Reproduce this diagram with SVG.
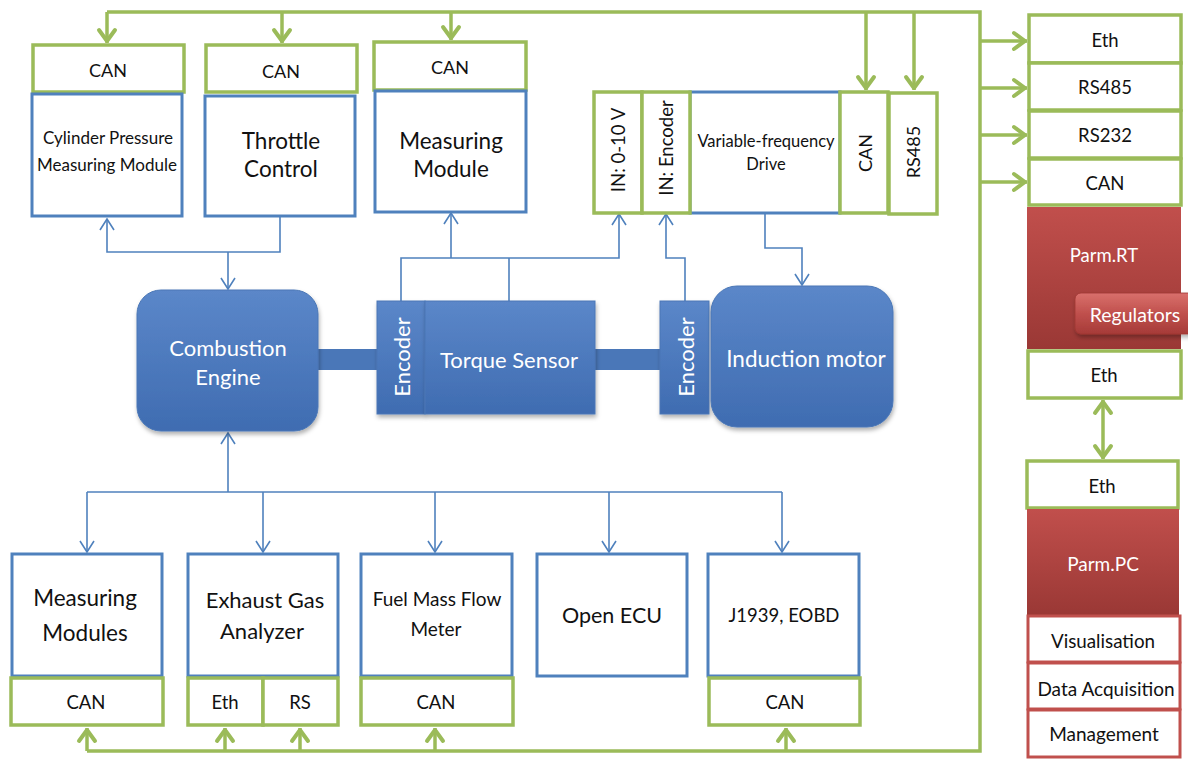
<svg xmlns="http://www.w3.org/2000/svg" width="1188" height="760" viewBox="0 0 1188 760">
<defs>
<linearGradient id="gb" x1="0" y1="0" x2="0" y2="1"><stop offset="0" stop-color="#5B87C9"/><stop offset="1" stop-color="#3F6CB1"/></linearGradient>
<linearGradient id="gr" x1="0" y1="0" x2="0" y2="1"><stop offset="0" stop-color="#C14F4C"/><stop offset="1" stop-color="#9A3835"/></linearGradient>
<linearGradient id="greg" x1="0" y1="0" x2="0" y2="1"><stop offset="0" stop-color="#D9706C"/><stop offset="0.5" stop-color="#C0504D"/><stop offset="1" stop-color="#A63B38"/></linearGradient>
<filter id="sh" x="-10%" y="-10%" width="125%" height="130%"><feDropShadow dx="1" dy="3" stdDeviation="2" flood-color="#000" flood-opacity="0.3"/></filter>
<marker id="ab" markerUnits="userSpaceOnUse" viewBox="-14 -9 16 18" markerWidth="16" markerHeight="18" refX="0" refY="0" orient="auto">
<path d="M-11,-7 L0,0 L-11,7" fill="none" stroke="#4F81BD" stroke-width="1.6"/>
</marker>
<marker id="ag" markerUnits="userSpaceOnUse" viewBox="-16 -11 20 22" markerWidth="20" markerHeight="22" refX="0" refY="0" orient="auto-start-reverse">
<path d="M-13,-8 L-2,0 L-13,8" fill="none" stroke="#9BBB59" stroke-width="4" stroke-linejoin="round" stroke-linecap="round"/>
</marker>
<style>
text{font-family:Lato,"Liberation Sans",sans-serif;fill:#111;text-anchor:middle;dominant-baseline:central}
.w{fill:#fff}
.g{fill:#fff;stroke:#9BBB59;stroke-width:3.5}
.b{fill:#fff;stroke:#4F81BD;stroke-width:3}
.r{fill:#fff;stroke:#C0504D;stroke-width:3}
.bf{fill:url(#gb);stroke:#4A77B6;stroke-width:1}
.rf{fill:url(#gr)}
.cb{fill:none;stroke:#4F81BD;stroke-width:1.6}
.cg{fill:none;stroke:#9BBB59;stroke-width:3.5}
</style>
</defs>
<rect width="1188" height="760" fill="#fff"/>

<g id="connectors">
<path class="cg" d="M107,12 H980 V751 H87"/>
<path class="cg" d="M107,12 V43" marker-end="url(#ag)"/>
<path class="cg" d="M282,12 V43" marker-end="url(#ag)"/>
<path class="cg" d="M451,12 V40" marker-end="url(#ag)"/>
<path class="cg" d="M866,12 V90" marker-end="url(#ag)"/>
<path class="cg" d="M914,12 V90" marker-end="url(#ag)"/>
<path class="cg" d="M980,41 H1027" marker-end="url(#ag)"/>
<path class="cg" d="M980,88 H1027" marker-end="url(#ag)"/>
<path class="cg" d="M980,135 H1027" marker-end="url(#ag)"/>
<path class="cg" d="M980,182 H1027" marker-end="url(#ag)"/>
<path class="cg" d="M87,751 V728" marker-end="url(#ag)"/>
<path class="cg" d="M225,751 V728" marker-end="url(#ag)"/>
<path class="cg" d="M300,751 V728" marker-end="url(#ag)"/>
<path class="cg" d="M435,751 V728" marker-end="url(#ag)"/>
<path class="cg" d="M786,751 V728" marker-end="url(#ag)"/>
<path class="cg" d="M1103,400 V459" marker-start="url(#ag)" marker-end="url(#ag)"/>

<path class="cb" d="M280,217 V252 H107 V219" marker-end="url(#ab)"/>
<path class="cb" d="M228,252 V289" marker-end="url(#ab)"/>
<path class="cb" d="M401,301 V258 H619 V214" marker-end="url(#ab)"/>
<path class="cb" d="M509,301 V258"/>
<path class="cb" d="M451,258 V213" marker-end="url(#ab)"/>
<path class="cb" d="M685,301 V258 H666 V214" marker-end="url(#ab)"/>
<path class="cb" d="M765,214 V248 H802 V285" marker-end="url(#ab)"/>
<path class="cb" d="M228,492 V433" marker-end="url(#ab)"/>
<path class="cb" d="M87,492 H782"/>
<path class="cb" d="M87,492 V552" marker-end="url(#ab)"/>
<path class="cb" d="M263,492 V552" marker-end="url(#ab)"/>
<path class="cb" d="M435,492 V552" marker-end="url(#ab)"/>
<path class="cb" d="M609,492 V552" marker-end="url(#ab)"/>
<path class="cb" d="M782,492 V552" marker-end="url(#ab)"/>
</g>

<g id="cylinder">
<rect class="g" x="33" y="45" width="151" height="47"/>
<text x="108" y="70" font-size="18">CAN</text>
<rect class="b" x="32" y="94" width="150" height="122"/>
<text x="108" y="137" font-size="17">Cylinder Pressure</text>
<text x="107" y="164" font-size="17">Measuring Module</text>
</g>

<g id="throttle">
<rect class="g" x="206" y="45" width="151" height="47"/>
<text x="281" y="71" font-size="18">CAN</text>
<rect class="b" x="205" y="96" width="150" height="120"/>
<text x="281" y="140" font-size="22.5">Throttle</text>
<text x="281" y="168" font-size="22.5">Control</text>
</g>

<g id="measuring-module">
<rect class="g" x="374" y="42" width="152" height="48"/>
<text x="450" y="67" font-size="18">CAN</text>
<rect class="b" x="375" y="91" width="151" height="121"/>
<text x="451" y="140" font-size="22.5">Measuring</text>
<text x="451" y="168" font-size="22.5">Module</text>
</g>

<g id="vfd">
<rect class="b" x="690" y="92" width="150" height="121"/>
<text x="766" y="141" font-size="16.5">Variable-frequency</text>
<text x="766" y="164" font-size="16.5">Drive</text>
<rect class="g" x="594" y="92" width="48" height="121"/>
<text transform="rotate(-90 618 150)" x="618" y="150" font-size="18.5">IN: 0-10 V</text>
<rect class="g" x="642" y="92" width="48" height="121"/>
<text transform="rotate(-90 666 148)" x="666" y="148" font-size="18.5">IN: Encoder</text>
<rect class="g" x="840" y="92" width="48" height="121"/>
<text transform="rotate(-90 865 153)" x="865" y="153" font-size="18">CAN</text>
<rect class="g" x="889" y="93" width="48" height="121"/>
<text transform="rotate(-90 913 152)" x="913" y="152" font-size="18">RS485</text>
</g>

<g id="parm-rt">
<rect class="g" x="1029" y="15" width="152" height="48"/>
<text x="1105" y="40" font-size="18.5">Eth</text>
<rect class="g" x="1029" y="63" width="152" height="47"/>
<text x="1105" y="87" font-size="18.5">RS485</text>
<rect class="g" x="1029" y="111" width="152" height="47"/>
<text x="1105" y="135" font-size="18.5">RS232</text>
<rect class="g" x="1029" y="159" width="152" height="46"/>
<text x="1105" y="183" font-size="18.5">CAN</text>
<rect class="rf" x="1027" y="207" width="154" height="142"/>
<text class="w" x="1104" y="255" font-size="18.5">Parm.RT</text>
<rect x="1075" y="293" width="120" height="41" rx="6" fill="url(#greg)" stroke="#9E3532" stroke-width="0.8" filter="url(#sh)"/>
<text class="w" x="1135" y="314" font-size="19.5">Regulators</text>
<rect class="g" x="1028" y="351" width="153" height="47"/>
<text x="1104" y="375" font-size="18.5">Eth</text>
</g>

<g id="parm-pc">
<rect class="g" x="1027" y="461" width="151" height="47"/>
<text x="1102" y="486" font-size="18.5">Eth</text>
<rect class="rf" x="1027" y="509" width="152" height="106"/>
<text class="w" x="1103" y="563" font-size="19">Parm.PC</text>
<rect class="r" x="1028" y="616" width="152" height="46"/>
<text x="1103" y="640" font-size="18.8">Visualisation</text>
<rect class="r" x="1028" y="663" width="152" height="46"/>
<text x="1106" y="688" font-size="19">Data Acquisition</text>
<rect class="r" x="1028" y="710" width="152" height="47"/>
<text x="1104" y="733" font-size="19">Management</text>
</g>

<g id="drivetrain">
<rect x="316" y="349" width="62" height="21" fill="#4A77B8"/>
<rect x="594" y="349" width="68" height="21" fill="#4A77B8"/>
<rect class="bf" x="137" y="290" width="181" height="141" rx="24" filter="url(#sh)"/>
<text class="w" x="228" y="347" font-size="22">Combustion</text>
<text class="w" x="228" y="376" font-size="22">Engine</text>
<rect class="bf" x="377" y="301" width="48" height="113" filter="url(#sh)"/>
<text class="w" transform="rotate(-90 401 357)" x="401" y="357" font-size="22">Encoder</text>
<rect class="bf" x="425" y="301" width="170" height="113" filter="url(#sh)"/>
<text class="w" x="509" y="359" font-size="22">Torque Sensor</text>
<rect class="bf" x="660" y="301" width="49" height="113" filter="url(#sh)"/>
<text class="w" transform="rotate(-90 685 357)" x="685" y="357" font-size="22">Encoder</text>
<rect class="bf" x="711" y="286" width="182" height="141" rx="26" filter="url(#sh)"/>
<text class="w" x="806" y="358" font-size="22.5">Induction motor</text>
</g>

<g id="measuring-modules">
<rect class="b" x="12" y="554" width="150" height="122"/>
<text x="85" y="597" font-size="22.5">Measuring</text>
<text x="85" y="632" font-size="22.5">Modules</text>
<rect class="g" x="11" y="678" width="152" height="47"/>
<text x="86" y="702" font-size="18.5">CAN</text>
</g>

<g id="exhaust">
<rect class="b" x="188" y="554" width="150" height="122"/>
<text x="265" y="599" font-size="22">Exhaust Gas</text>
<text x="262" y="630" font-size="22">Analyzer</text>
<rect class="g" x="188" y="678" width="75" height="47"/>
<text x="225" y="702" font-size="18.5">Eth</text>
<rect class="g" x="263" y="678" width="75" height="47"/>
<text x="300" y="702" font-size="18.5">RS</text>
</g>

<g id="fuel">
<rect class="b" x="361" y="554" width="151" height="122"/>
<text x="437" y="598" font-size="19">Fuel Mass Flow</text>
<text x="436" y="628" font-size="19">Meter</text>
<rect class="g" x="361" y="678" width="152" height="47"/>
<text x="436" y="702" font-size="18.5">CAN</text>
</g>

<g id="open-ecu">
<rect class="b" x="537" y="554" width="150" height="122"/>
<text x="612" y="615" font-size="21.5">Open ECU</text>
</g>

<g id="j1939">
<rect class="b" x="708" y="554" width="151" height="122"/>
<text x="784" y="615" font-size="18.5">J1939, EOBD</text>
<rect class="g" x="709" y="678" width="151" height="47"/>
<text x="785" y="702" font-size="18.5">CAN</text>
</g>
</svg>
